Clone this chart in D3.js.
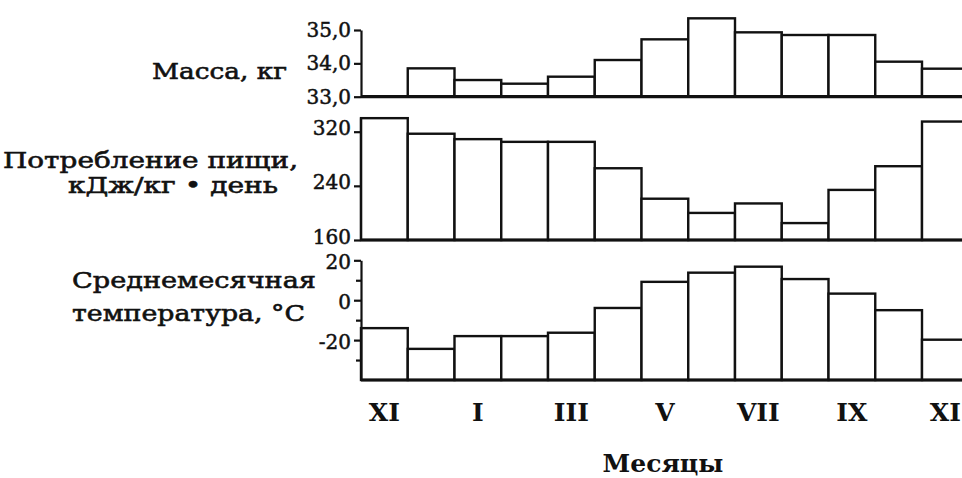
<!DOCTYPE html>
<html>
<head>
<meta charset="utf-8">
<script src="https://cdn.jsdelivr.net/npm/d3@7"></script>
<style>
  body { margin: 0; background: #fff; }
  svg { display: block; }
  text { font-family: "DejaVu Serif", "Liberation Serif", serif; fill: #111; }
  .axis path, .axis line { stroke: #111; stroke-width: 2.2; }
  .axis text { font-size: 20px; stroke: #111; stroke-width: 0.5; }
  text.title { stroke: #111; stroke-width: 0.6; }
</style>
</head>
<body>
<div id="vis"></div>
<script>
/*************************** data ************************************/
var months = ["XI", "XII", "I", "II", "III", "IV", "V", "VI", "VII", "VIII", "IX", "X", "XI"];
var monthTicks = [0, 2, 4, 6, 8, 10, 12];   // indexes of labelled months

var massKg = [null, 33.85, 33.5, 33.39, 33.6, 34.1, 34.72, 35.35, 34.93, 34.85, 34.85, 34.05, 33.84];
var foodIntake = [340, 317, 309, 305, 305, 266, 221, 200, 214, 185, 234, 269, 335];
var tempC = [-14, -24.4, -18, -18, -16.3, -3.9, 9.2, 13.8, 16.8, 10.6, 3.3, -5, -19.8];

var massTicks = [33, 34, 35];
var massTickLabels = ["33,0", "34,0", "35,0"];
var foodTicks = [160, 240, 320];
var tempTicks = [-30, -20, -10, 0, 10, 20];
var tempTickLabels = {"-20": "-20", "0": "0", "20": "20"};

/*************************** layout ************************************/
var W = 962, H = 478;
var svg = d3.select("div#vis").append("svg")
    .attr("width", W)
    .attr("height", H);

var x = d3.scaleBand()
    .domain(d3.range(months.length))
    .range([361, 361 + 13 * 46.75])
    .paddingInner(0).paddingOuter(0);

function draw_panel(values, y, axis, base) {
    var g = svg.append("g");
    g.selectAll("rect.bar")
        .data(values.map(function(v, i) { return {i: i, v: v}; })
                    .filter(function(d) { return d.v !== null; }))
      .enter().append("rect")
        .attr("class", "bar")
        .attr("x", function(d) { return x(d.i); })
        .attr("width", x.bandwidth())
        .attr("y", function(d) { return y(d.v); })
        .attr("height", function(d) { return y(base) - y(d.v); })
        .attr("fill", "#fff")
        .attr("stroke", "#111")
        .attr("stroke-width", 2.4);

    // baseline
    g.append("line")
        .attr("x1", x.range()[0]).attr("x2", W)
        .attr("y1", y(base)).attr("y2", y(base))
        .attr("stroke", "#111").attr("stroke-width", 3.2);

    g.append("g")
        .attr("class", "axis")
        .attr("transform", "translate(" + x.range()[0] + ",0)")
        .call(axis);
    return g;
}

/*************************** mass ************************************/
var yMass = d3.scaleLinear().domain([33, 35]).range([96.7, 30]);
draw_panel(massKg, yMass,
    d3.axisLeft(yMass).tickValues(massTicks)
        .tickFormat(function(d, i) { return massTickLabels[i]; })
        .tickSize(7).tickSizeOuter(0).tickPadding(3),
    33);

/*************************** food ************************************/
var yFood = d3.scaleLinear().domain([160, 320]).range([240, 131.7]);
var foodAxis = d3.axisLeft(yFood).tickValues(foodTicks)
    .tickFormat(d3.format("d"))
    .tickSize(7).tickSizeOuter(0).tickPadding(3);
draw_panel(foodIntake, yFood, function(sel) {
    sel.call(foodAxis);
    sel.select("path.domain")
        .attr("d", "M0," + yFood(d3.max(foodIntake)) + "V" + yFood(160));
    sel.selectAll(".tick text").attr("dy", "0.15em");
}, 160);

/*************************** temperature ************************************/
var yTemp = d3.scaleLinear().domain([-40, 20]).range([380, 260.3]);
var tempAxis = d3.axisLeft(yTemp).tickValues(tempTicks)
    .tickFormat(function(d) { return tempTickLabels[d] || ""; })
    .tickSizeOuter(0).tickPadding(3);
draw_panel(tempC, yTemp, function(sel) {
    sel.call(tempAxis);
    sel.selectAll(".tick line")
        .attr("x2", function(d) { return tempTickLabels[d] ? -7 : -5; });
    sel.selectAll(".tick text").attr("x", -10).attr("dy", "0.42em");
}, -40);

/*************************** month labels ************************************/
svg.append("g").selectAll("text.month")
    .data(monthTicks)
  .enter().append("text")
    .attr("class", "month")
    .attr("x", function(i) { return x(i) + x.bandwidth() / 2; })
    .attr("y", 421)
    .attr("text-anchor", "middle")
    .style("font-size", "25px")
    .style("font-weight", "bold")
    .text(function(i) { return months[i]; });

svg.append("text")
    .attr("x", 663).attr("y", 472)
    .attr("text-anchor", "middle")
    .style("font-size", "25px")
    .style("font-weight", "bold")
    .text("Месяцы");

/*************************** panel titles ************************************/
var titles = [
    {t: "Масса, кг", x: 152, y: 79, len: 135},
    {t: "Потребление пищи,", x: 3, y: 168, len: 295},
    {t: "кДж/кг • день", x: 68, y: 193, len: 210},
    {t: "Среднемесячная", x: 72, y: 288, len: 244},
    {t: "температура, °С", x: 72, y: 321, len: 233}
];
svg.append("g").selectAll("text.title")
    .data(titles)
  .enter().append("text")
    .attr("class", "title")
    .attr("x", function(d) { return d.x; })
    .attr("y", function(d) { return d.y; })
    .attr("textLength", function(d) { return d.len; })
    .attr("lengthAdjust", "spacingAndGlyphs")
    .style("font-size", "23px")
    .text(function(d) { return d.t; });
</script>
</body>
</html>
